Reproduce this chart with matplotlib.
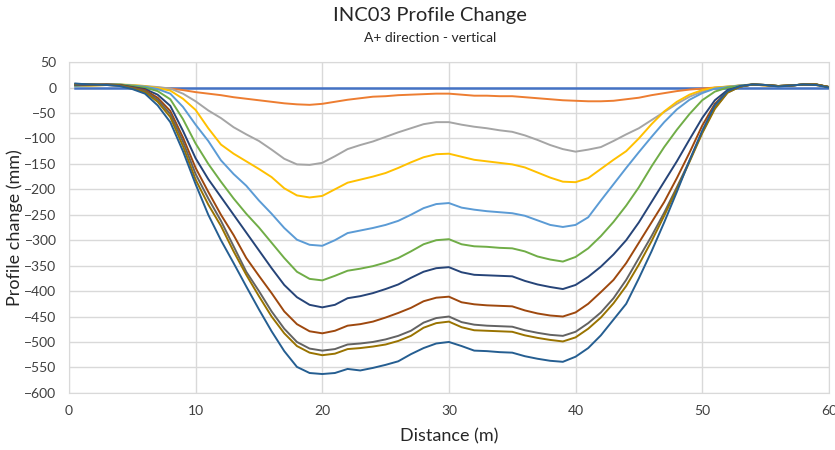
import matplotlib
matplotlib.use("Agg")
import matplotlib.pyplot as plt

plt.rcParams['font.family'] = ['Lato', 'DejaVu Sans']

# distance along the profile (m)
distance = [0.5] + list(range(1, 61))

# profile change for each survey (mm), one value per distance point
s01 = [0] * 61
s02 = [5, 5, 5, 5, 4, 3, 1, 0, -2, -5, -9, -12, -15, -19, -22, -25, -28, -31, -33, -34,
       -32, -28, -24, -21, -18, -17, -15, -14, -13, -12, -12, -14, -16, -16, -17, -17, -19, -21, -23, -25,
       -26, -27, -27, -26, -23, -20, -15, -11, -7, -4, -2, 0, 1, 4, 6, 4, 3, 4, 6, 5, 1]
s03 = [2, 3, 4, 5, 5, 4, 3, 1, -2, -12, -27, -45, -60, -78, -92, -105, -122, -140, -151, -152,
       -148, -135, -121, -113, -106, -97, -88, -80, -72, -68, -68, -73, -77, -80, -84, -87, -94, -103, -113, -121,
       -126, -122, -117, -105, -92, -80, -64, -48, -32, -18, -8, -1, 2, 4, 6, 4, 3, 4, 6, 5, 1]
s04 = [3, 3, 4, 5, 6, 5, 3, -1, -6, -22, -44, -80, -112, -130, -145, -160, -176, -198, -212, -216,
       -213, -200, -187, -181, -175, -168, -158, -147, -137, -131, -130, -136, -142, -145, -148, -151, -157, -167, -177, -185,
       -186, -178, -160, -142, -125, -100, -72, -47, -28, -14, -5, 0, 2, 4, 6, 4, 3, 4, 6, 5, 1]
s05 = [3, 4, 5, 6, 6, 4, 2, -3, -12, -38, -73, -105, -143, -170, -193, -222, -248, -276, -299, -309,
       -311, -300, -286, -281, -276, -270, -262, -250, -237, -229, -227, -236, -240, -243, -245, -247, -252, -261, -270, -274,
       -270, -255, -222, -190, -158, -127, -97, -68, -43, -24, -11, -2, 1, 4, 6, 5, 3, 4, 6, 6, 1]
s06 = [4, 5, 5, 6, 6, 3, 0, -7, -23, -62, -110, -150, -185, -218, -248, -275, -305, -335, -362, -376,
       -379, -370, -360, -356, -351, -344, -335, -322, -308, -300, -298, -308, -312, -313, -315, -316, -322, -332, -338, -342,
       -333, -316, -292, -264, -232, -196, -155, -117, -83, -52, -25, -8, 0, 3, 6, 5, 3, 4, 6, 6, 1]
s07 = [5, 5, 5, 6, 5, 1, -3, -14, -36, -85, -139, -180, -215, -250, -285, -320, -355, -388, -412, -427,
       -432, -427, -414, -410, -404, -396, -387, -374, -362, -355, -353, -363, -368, -369, -370, -371, -380, -387, -392, -396,
       -388, -372, -352, -328, -300, -265, -225, -185, -145, -102, -60, -25, -5, 2, 6, 5, 3, 4, 6, 6, 1]
s08 = [6, 6, 6, 6, 5, 0, -5, -20, -46, -98, -158, -205, -250, -290, -335, -370, -404, -440, -465, -479,
       -483, -478, -468, -465, -460, -452, -443, -433, -420, -413, -411, -422, -426, -428, -429, -430, -438, -444, -448, -450,
       -442, -425, -402, -378, -345, -305, -265, -225, -178, -128, -75, -32, -8, 2, 6, 5, 3, 4, 6, 6, 1]
s09 = [6, 6, 6, 5, 4, -1, -7, -24, -52, -106, -170, -218, -262, -312, -362, -400, -440, -474, -500, -513,
       -517, -514, -505, -503, -500, -495, -488, -478, -462, -453, -450, -461, -466, -468, -469, -470, -477, -482, -486, -488,
       -480, -463, -442, -414, -378, -335, -292, -246, -196, -144, -88, -40, -10, 2, 6, 5, 3, 4, 6, 6, 1]
s10 = [7, 7, 6, 5, 4, -2, -9, -28, -58, -115, -181, -230, -272, -322, -368, -410, -450, -483, -508, -521,
       -526, -523, -514, -512, -509, -505, -498, -488, -472, -463, -460, -471, -477, -478, -479, -480, -487, -492, -496, -499,
       -491, -474, -452, -424, -390, -348, -302, -252, -200, -146, -90, -42, -10, 2, 6, 5, 3, 4, 6, 6, 1]
s11 = [8, 7, 6, 5, 3, -3, -12, -35, -68, -125, -190, -250, -300, -345, -391, -436, -479, -518, -549, -561,
       -563, -561, -553, -556, -551, -545, -538, -524, -512, -503, -500, -508, -517, -518, -520, -521, -528, -533, -537, -539,
       -529, -512, -487, -456, -425, -375, -322, -265, -205, -143, -85, -35, -7, 3, 6, 5, 2, 4, 6, 5, 0]

series = [s01, s02, s03, s04, s05, s06, s07, s08, s09, s10, s11]
colors = ['#4472C4', '#ED7D31', '#A5A5A5', '#FFC000', '#5B9BD5', '#70AD47',
          '#264478', '#9E480E', '#636363', '#997300', '#255E91']

fig = plt.figure(figsize=(8.35, 4.5), dpi=100)
ax = fig.add_axes([0.0826, 0.127, 0.910, 0.735])

for i, vals in enumerate(series):
    lw = 1.8 if i == 0 else 1.4
    ax.plot(distance, vals, color=colors[i], lw=lw, zorder=2 + i)

ax.set_xlim(0, 60)
ax.set_ylim(-600, 50)
ax.set_xticks(range(0, 61, 10))
ax.set_yticks(range(-600, 51, 50))
ax.grid(True, color='#D9D9D9', lw=1.0, zorder=0)
ax.set_axisbelow(True)
for sp in ax.spines.values():
    sp.set_color('#D9D9D9')
ax.tick_params(length=0, labelsize=10, colors='#404040')
ax.tick_params(axis='y', pad=9)
ax.tick_params(axis='x', pad=9)

ax.set_xlabel('Distance (m)', fontsize=13, color='#262626', labelpad=8)
ax.set_ylabel('Profile change (mm)', fontsize=13, color='#262626')
ax.yaxis.set_label_coords(-0.061, 0.5)

fig.text(0.515, 0.965, 'INC03 Profile Change', ha='center', va='center',
         fontsize=14.5, color='#262626')
fig.text(0.515, 0.915, 'A+ direction - vertical', ha='center', va='center',
         fontsize=10, color='#262626')

fig.savefig('out.png', dpi=100)
